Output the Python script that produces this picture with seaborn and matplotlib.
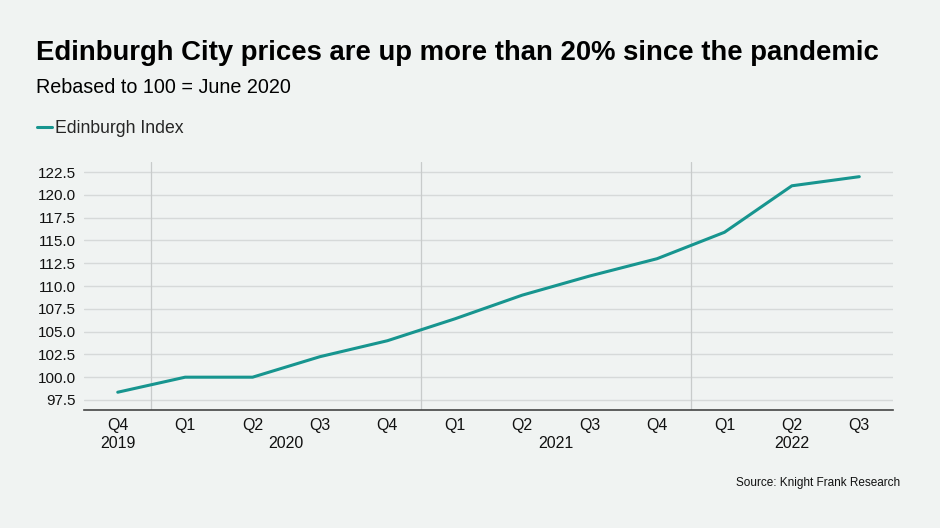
import matplotlib
matplotlib.use("Agg")
import matplotlib.pyplot as plt
import seaborn as sns
import pandas as pd

quarters = ["Q4", "Q1", "Q2", "Q3", "Q4", "Q1", "Q2", "Q3", "Q4", "Q1", "Q2", "Q3"]
years = ["2019", "2020", "2020", "2020", "2020", "2021", "2021", "2021", "2021", "2022", "2022", "2022"]
index_values = [98.35, 100.0, 100.0, 102.25, 104.0, 106.4, 109.0, 111.1, 113.0, 115.9, 121.0, 122.0]

year_labels = ["2019", "2020", "2021", "2022"]
year_label_pos = [0, 2.5, 6.5, 10]
year_breaks = [0.5, 4.5, 8.5]

bg = "#f0f3f2"
teal = "#17958f"

df = pd.DataFrame({"pos": range(len(index_values)), "value": index_values})

sns.set_theme(style="white")
plt.rcParams["font.family"] = ["Liberation Sans", "DejaVu Sans"]

fig = plt.figure(figsize=(9.4, 5.28), dpi=100, facecolor=bg)
ax = fig.add_axes([0.0894, 0.2235, 0.8606, 0.4695])
ax.set_facecolor(bg)

ax.set_yticks([97.5 + 2.5 * i for i in range(11)])
ax.yaxis.grid(True, color="#d6d9d9", linewidth=1)
ax.set_axisbelow(True)
for xb in year_breaks:
    ax.axvline(xb, color="#c8cbcb", linewidth=0.9, zorder=1)

sns.lineplot(data=df, x="pos", y="value", ax=ax, color=teal, linewidth=2.2,
             label="Edinburgh Index", zorder=3)

ax.set_xlim(-0.5, 11.5)
ax.set_ylim(96.4, 123.6)
ax.set_xticks(range(len(quarters)))
ax.set_xticklabels(quarters)
ax.set_yticklabels([f"{v:.1f}" for v in ax.get_yticks()])
ax.tick_params(axis="both", length=0, labelsize=11, colors="#111111")
ax.tick_params(axis="x", pad=6, labelsize=11.5)
ax.tick_params(axis="y", pad=6)
ax.set_xlabel("")
ax.set_ylabel("")

for side in ["top", "right", "left"]:
    ax.spines[side].set_visible(False)
ax.spines["bottom"].set_color("#444444")
ax.spines["bottom"].set_linewidth(1.2)

for label, xp in zip(year_labels, year_label_pos):
    ax.text(xp, -0.137, label, transform=ax.get_xaxis_transform(),
            ha="center", va="center", fontsize=11.5, color="#111111")

ax.legend(loc="center left", bbox_to_anchor=(0.039, 0.756), bbox_transform=fig.transFigure,
          frameon=False, handlelength=0.85, handletextpad=0.2, fontsize=12.7,
          borderaxespad=0, borderpad=0)

fig.text(0.038, 0.9, "Edinburgh City prices are up more than 20% since the pandemic",
         fontsize=19.8, fontweight="bold", va="center", ha="left", color="#000000")
fig.text(0.038, 0.835, "Rebased to 100 = June 2020", fontsize=14.2, va="center",
         ha="left", color="#000000")
fig.text(0.958, 0.085, "Source: Knight Frank Research", fontsize=8.5, va="center",
         ha="right", color="#111111")

fig.savefig("out.png", dpi=100, facecolor=bg)
